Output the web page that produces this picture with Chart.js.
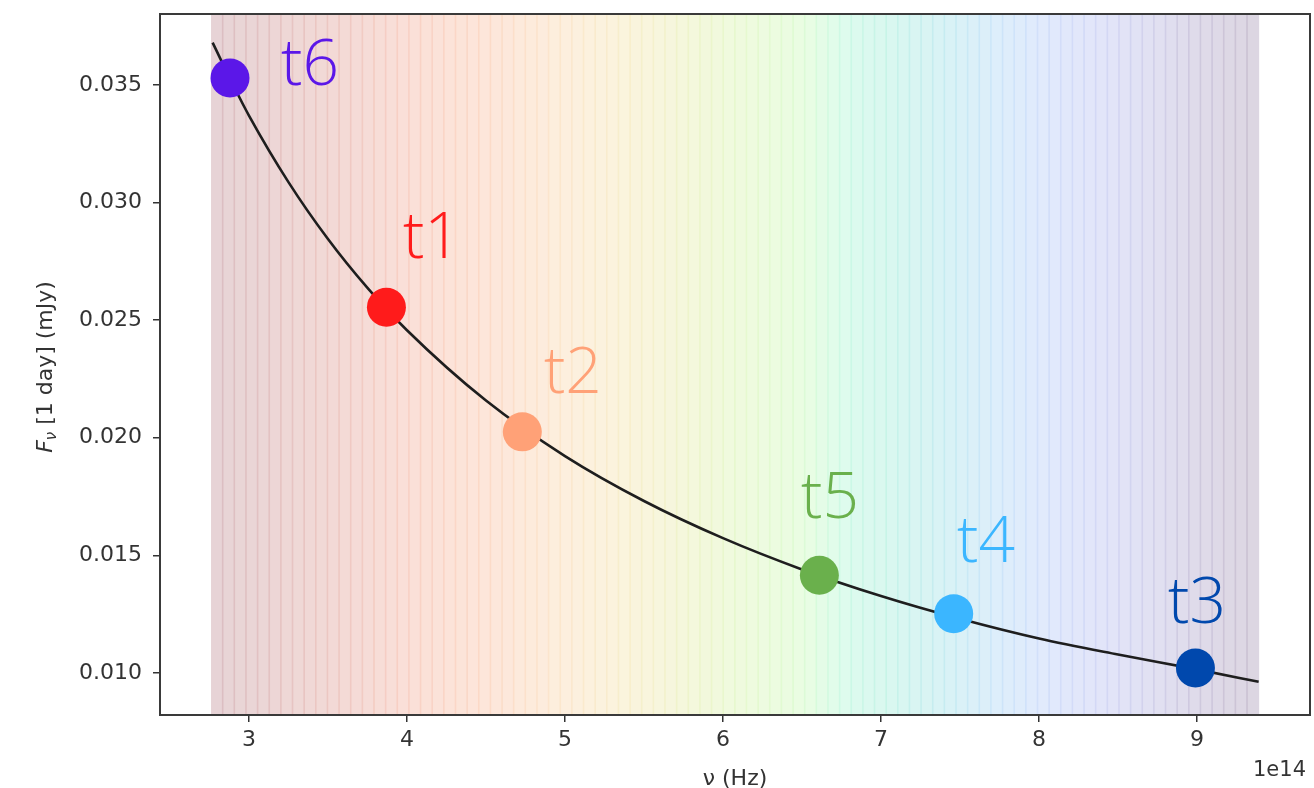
<!DOCTYPE html>
<html>
<head>
<meta charset="utf-8">
<script src="https://cdn.jsdelivr.net/npm/chart.js@4.4.1/dist/chart.umd.min.js"></script>
<style>
html,body{margin:0;padding:0;background:#fff;}
#wrap{width:1314px;height:788px;position:relative;}
</style>
</head>
<body>
<div id="wrap"><canvas id="c" width="1314" height="788"></canvas></div>
<script>
// ---- data ----
const curveNu = [2.77, 2.9, 3.0, 3.25, 3.5, 3.75, 4.0, 4.5, 5.0, 5.5, 6.0, 6.5, 7.0, 7.5, 8.0, 8.5, 9.0, 9.39];
const curveF  = [0.0368, 0.0350, 0.0337, 0.03087, 0.02845, 0.02637, 0.02457, 0.02158, 0.01922, 0.01731, 0.01573, 0.0144, 0.01327, 0.0123, 0.01146, 0.01078, 0.01015, 0.00962];

const pointNames = ['t6', 't1', 't2', 't5', 't4', 't3'];
const pointNu    = [2.88, 3.87, 4.73, 6.61, 7.46, 8.99];
const pointF     = [0.0353, 0.02555, 0.02025, 0.01415, 0.01252, 0.01021];
const pointColors = ['#5b17e8', '#ff1b1b', '#ffa177', '#6ab04c', '#3bb6ff', '#0048ad'];

// label anchors (data units: centre x, baseline y)
const labelNu = [3.386, 4.158, 5.05, 6.677, 7.665, 9.0];
const labelF  = [0.0350, 0.02765, 0.0219, 0.01659, 0.01472, 0.01213];

const xTicks = [3, 4, 5, 6, 7, 8, 9];
const yTicks = [0.010, 0.015, 0.020, 0.025, 0.030, 0.035];
const yTickLabels = ['0.010', '0.015', '0.020', '0.025', '0.030', '0.035'];

// spectrum background (frequency stops and the colour seen there)
const spectrumNu = [2.76, 3.0, 3.5, 4.0, 4.5, 5.0, 5.5, 5.85, 6.2, 6.5, 6.8, 7.1, 7.45, 7.75, 8.05, 8.4, 8.7, 9.0, 9.39];
const spectrumColor = ['#e6d3d6','#ead5d6','#f2d9d6','#fadfd8','#fde6da','#fdefde','#f9f5dd','#f3f8dc','#eefbdf','#eafde2','#ddfbee','#d9f7f0','#d9f2f6','#ddeefb','#e1eafc','#e2e5f9','#e1e1f3','#dfdbea','#dcd6e1'];
const stripeCount = 90;

// ---- helpers ----
function hex2rgb(h){return [parseInt(h.slice(1,3),16),parseInt(h.slice(3,5),16),parseInt(h.slice(5,7),16)];}
function colorAt(nu){
  if (nu <= spectrumNu[0]) return hex2rgb(spectrumColor[0]);
  for (let i=0;i<spectrumNu.length-1;i++){
    if (nu <= spectrumNu[i+1]){
      const t=(nu-spectrumNu[i])/(spectrumNu[i+1]-spectrumNu[i]);
      const a=hex2rgb(spectrumColor[i]), b=hex2rgb(spectrumColor[i+1]);
      return a.map((v,k)=>v+(b[k]-v)*t);
    }
  }
  return hex2rgb(spectrumColor[spectrumColor.length-1]);
}

const spectrumPlugin = {
  id: 'spectrum',
  beforeDatasetsDraw(chart){
    const {ctx, chartArea:a, scales:{x, y}} = chart;
    ctx.save();
    ctx.beginPath(); ctx.rect(a.left, a.top, a.right-a.left, a.bottom-a.top); ctx.clip();
    const n0 = spectrumNu[0], n1 = spectrumNu[spectrumNu.length-1];
    const w = (n1-n0)/stripeCount;
    for (let i=0;i<stripeCount;i++){
      const s = n0+i*w, e = s+w;
      const c = colorAt(s+w/2);
      const px0 = x.getPixelForValue(s), px1 = x.getPixelForValue(e);
      ctx.fillStyle = `rgb(${c.map(Math.round).join(',')})`;
      ctx.fillRect(px0, a.top, px1-px0+0.5, a.bottom-a.top);
      if (i>0){
        const d = c.map(v=>Math.max(0,Math.round(255-(255-v)*1.5)));
        ctx.fillStyle = `rgb(${d.join(',')})`;
        ctx.fillRect(px0-0.8, a.top, 1.6, a.bottom-a.top);
      }
    }
    ctx.restore();
  },
  afterDatasetsDraw(chart){
    const {ctx, chartArea:a, scales:{x, y}} = chart;
    ctx.save();
    // labels
    ctx.font = "300 64px 'Open Sans', 'Noto Sans', sans-serif";
    ctx.textAlign = 'center';
    ctx.textBaseline = 'alphabetic';
    for (let i=0;i<pointNames.length;i++){
      ctx.fillStyle = pointColors[i];
      ctx.fillText(pointNames[i], x.getPixelForValue(labelNu[i]), y.getPixelForValue(labelF[i]));
    }
    // frame
    ctx.strokeStyle = '#3a3a3a';
    ctx.lineWidth = 2;
    ctx.strokeRect(a.left, a.top, a.right-a.left, a.bottom-a.top);
    // axis titles
    ctx.fillStyle = '#333';
    ctx.font = "22px 'DejaVu Sans'";
    ctx.textAlign = 'center';
    ctx.textBaseline = 'middle';
    ctx.fillText('\u03bd (Hz)', (a.left+a.right)/2, 779);
    ctx.font = "21px 'DejaVu Sans'";
    ctx.textAlign = 'right';
    ctx.fillText('1e14', 1306, 771);
    // y title with italic F and subscript nu
    ctx.translate(45, 367);
    ctx.rotate(-Math.PI/2);
    const fMain = "22px 'DejaVu Sans'";
    const fIt = "italic 22px 'DejaVu Sans'";
    const fSub = "italic 15px 'DejaVu Sans'";
    const rest = ' [1 day] (mJy)';
    ctx.font = fIt; const wF = ctx.measureText('F').width;
    ctx.font = fSub; const wN = ctx.measureText('\u03bd').width;
    ctx.font = fMain; const wR = ctx.measureText(rest).width;
    let cx = -(wF+wN+wR)/2;
    ctx.textAlign = 'left';
    ctx.textBaseline = 'alphabetic';
    ctx.font = fIt; ctx.fillText('F', cx, 7); cx += wF;
    ctx.font = fSub; ctx.fillText('\u03bd', cx, 11); cx += wN;
    ctx.font = fMain; ctx.fillText(rest, cx, 7);
    ctx.restore();
  }
};

const curveData = curveNu.map((v,i)=>({x:v, y:curveF[i]}));
const pointData = pointNu.map((v,i)=>({x:v, y:pointF[i]}));

new Chart(document.getElementById('c'), {
  type: 'scatter',
  data: {
    datasets: [
      {
        label: 'epochs',
        data: pointData,
        pointRadius: 19.5,
        pointHoverRadius: 19.5,
        pointBackgroundColor: pointColors,
        pointBorderWidth: 0,
        borderWidth: 0,
        showLine: false
      },
      {
        label: 'model',
        data: curveData,
        showLine: true,
        pointRadius: 0,
        borderColor: '#1e1e1e',
        borderWidth: 2.6,
        cubicInterpolationMode: 'monotone',
        fill: false
      }
    ]
  },
  plugins: [spectrumPlugin],
  options: {
    responsive: false,
    animation: false,
    events: [],
    layout: { autoPadding: false, padding: { left: 0, top: 14, right: 4, bottom: 0 } },
    plugins: { legend: { display: false }, tooltip: { enabled: false } },
    scales: {
      x: {
        type: 'linear',
        min: 2.437, max: 9.715,
        afterBuildTicks: s => { s.ticks = xTicks.map(v=>({value:v})); },
        afterFit: s => { s.height = 73; s.paddingLeft = 0; s.paddingRight = 0; },
        border: { display: false },
        grid: { display: true, drawOnChartArea: false, drawTicks: true, tickLength: 7, color: '#333', lineWidth: 1.5 },
        ticks: { color: '#333', font: { family: 'DejaVu Sans', size: 22 }, padding: 5, maxRotation: 0,
                 callback: v => String(v) }
      },
      y: {
        type: 'linear',
        min: 0.00821, max: 0.03802,
        afterBuildTicks: s => { s.ticks = yTicks.map(v=>({value:v})); },
        afterFit: s => { s.width = 160; s.paddingTop = 0; s.paddingBottom = 0; },
        border: { display: false },
        grid: { display: true, drawOnChartArea: false, drawTicks: true, tickLength: 7, color: '#333', lineWidth: 1.5 },
        ticks: { color: '#333', font: { family: 'DejaVu Sans', size: 22 }, padding: 11,
                 callback: v => { const i = yTicks.findIndex(t=>Math.abs(t-v)<1e-9); return i>=0 ? yTickLabels[i] : ''; } }
      }
    }
  }
});
</script>
</body>
</html>
